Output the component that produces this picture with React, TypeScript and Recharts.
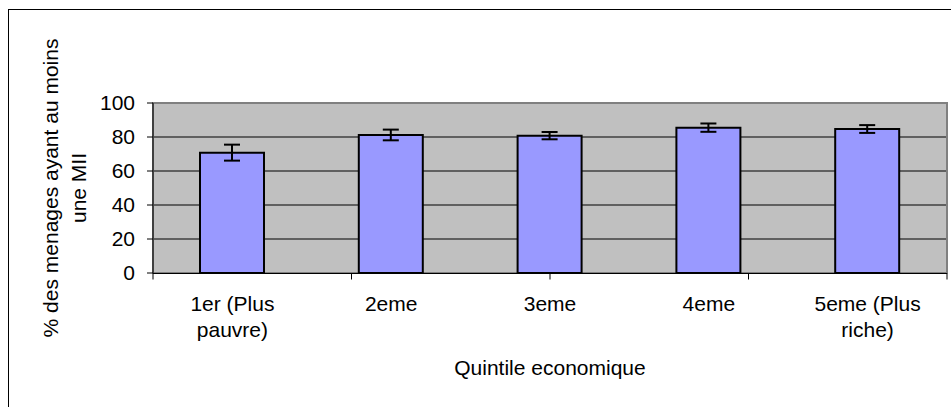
import React from 'react'
import { BarChart, Bar, XAxis, YAxis, CartesianGrid, ErrorBar, ReferenceArea } from 'recharts'

const quintiles = ['1er (Plus\npauvre)', '2eme', '3eme', '4eme', '5eme (Plus\nriche)']
const menagesMII = [70.8, 81.2, 80.8, 85.5, 84.7]
const marge = [4.7, 3.15, 2.15, 2.45, 2.3]
const yTicks = [0, 20, 40, 60, 80, 100]
const gridValues = [20, 40, 60, 80]
const bounds = [0, 1, 2, 3, 4, 5]

const data = quintiles.map((q, i) => ({ q, v: menagesMII[i], err: marge[i] }))

const FONT = '"Liberation Sans", Arial, sans-serif'
const FS = 21

const QuintileTick = (props: any) => {
  const { x, y, payload } = props
  const lines = String(payload.value).split('\n')
  return (
    <text x={x} y={y} textAnchor="middle" fontFamily={FONT} fontSize={FS} fill="#000">
      {lines.map((l, i) => (
        <tspan key={i} x={x} dy={i === 0 ? 38 : 26}>{l}</tspan>
      ))}
    </text>
  )
}

const XLabel = (props: any) => {
  const { x, y, width } = props.viewBox
  return (
    <text x={x + width / 2} y={y + 102} textAnchor="middle" fontFamily={FONT} fontSize={FS} fill="#000">
      Quintile economique
    </text>
  )
}

const YLabel = (props: any) => {
  const { x, y, height } = props.viewBox
  const cy = y + height / 2
  const x1 = x + 49
  const x2 = x + 77
  return (
    <g fontFamily={FONT} fontSize={FS} fill="#000">
      <text x={x1} y={cy} textAnchor="middle" transform={`rotate(-90, ${x1}, ${cy})`}>
        % des menages ayant au moins
      </text>
      <text x={x2} y={cy} textAnchor="middle" transform={`rotate(-90, ${x2}, ${cy})`}>
        une MII
      </text>
    </g>
  )
}

export default function App() {
  return (
    <div
      style={{
        position: 'fixed',
        left: 8,
        top: 9,
        width: 943,
        height: 398,
        boxSizing: 'border-box',
        borderLeft: '1px solid #000',
        borderTop: '1px solid #000',
        background: '#fff',
      }}
    >
      <BarChart
        width={942}
        height={397}
        data={data}
        margin={{ top: 93, right: 4, left: 0, bottom: 0 }}
        barSize={64}
      >
        <CartesianGrid
          xAxisId="cat"
          vertical={false}
          horizontalValues={gridValues}
          stroke="#000"
          fill="#c0c0c0"
          fillOpacity={1}
        />
        <XAxis
          xAxisId="cat"
          dataKey="q"
          height={0.5}
          interval={0}
          tickLine={false}
          axisLine={false}
          tickSize={0}
          tickMargin={0}
          tick={<QuintileTick />}
          label={<XLabel />}
        />
        <XAxis
          xAxisId="tk"
          type="number"
          domain={[0, 5]}
          allowDataOverflow
          ticks={bounds}
          interval={0}
          tickFormatter={() => ''}
          height={133.5}
          tickSize={6}
          stroke="#000"
          axisLine={{ stroke: '#000' }}
          tickLine={{ stroke: '#000' }}
        />
        <YAxis
          domain={[0, 100]}
          ticks={yTicks}
          interval={0}
          width={144}
          tickSize={6}
          tickMargin={12}
          stroke="#000"
          tick={{ fill: '#000', fontSize: FS, fontFamily: FONT }}
          label={<YLabel />}
        />
        <ReferenceArea
          xAxisId="cat"
          y1={0}
          y2={100}
          fill="none"
          stroke="#808080"
          strokeWidth={2}
          ifOverflow="visible"
        />
        <Bar xAxisId="cat" dataKey="v" fill="#9999ff" stroke="#000" strokeWidth={2} isAnimationActive={false}>
          <ErrorBar dataKey="err" width={8} stroke="#000" strokeWidth={2} isAnimationActive={false} />
        </Bar>
      </BarChart>
    </div>
  )
}
